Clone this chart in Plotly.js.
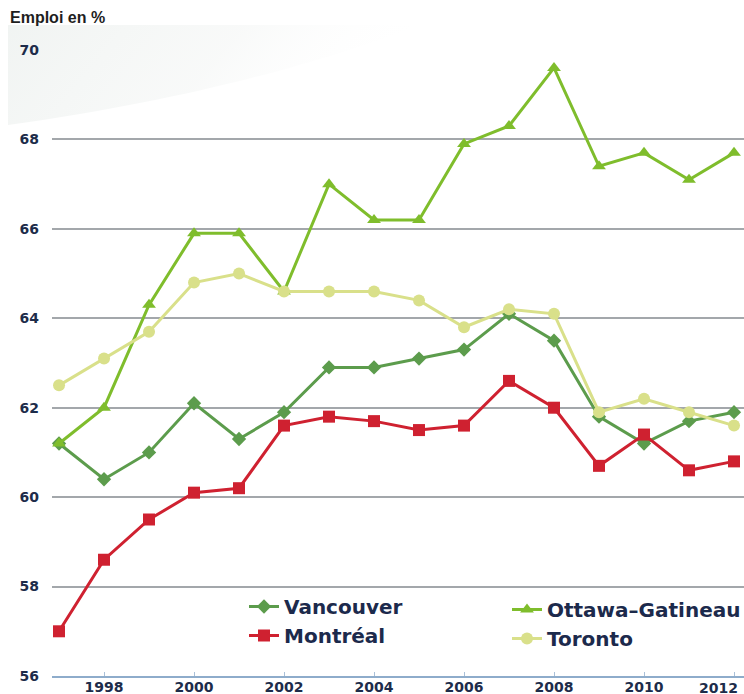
<!DOCTYPE html>
<html>
<head>
<meta charset="utf-8">
<script src="https://cdn.plot.ly/plotly-3.0.1.min.js"></script>
<style>html,body{margin:0;padding:0;background:#fff;}#chart{width:744px;height:694px;}</style>
</head>
<body>
<div id="chart"></div>
<script>
const years = [1997,1998,1999,2000,2001,2002,2003,2004,2005,2006,2007,2008,2009,2010,2011,2012];
const vancouver = [61.2,60.4,61.0,62.1,61.3,61.9,62.9,62.9,63.1,63.3,64.1,63.5,61.8,61.2,61.7,61.9];
const ottawa    = [61.2,62.0,64.3,65.9,65.9,64.6,67.0,66.2,66.2,67.9,68.3,69.6,67.4,67.7,67.1,67.7];
const montreal  = [57.0,58.6,59.5,60.1,60.2,61.6,61.8,61.7,61.5,61.6,62.6,62.0,60.7,61.4,60.6,60.8];
const toronto   = [62.5,63.1,63.7,64.8,65.0,64.6,64.6,64.6,64.4,63.8,64.2,64.1,61.9,62.2,61.9,61.6];
const seriesNames = ['Vancouver','Ottawa\u2013Gatineau','Montréal','Toronto'];
const yTicks = [56,58,60,62,64,66,68,70];
const xTicks = [1998,2000,2002,2004,2006,2008,2010,2012];
const xTickText = ['1998','2000','2002','2004','2006','2008','2010',''];
const lastTickLabel = '2012';

const swoosh = 'data:image/svg+xml;utf8,' + encodeURIComponent(
 '<svg xmlns="http://www.w3.org/2000/svg" width="420" height="100" viewBox="0 0 420 100" preserveAspectRatio="none">' +
 '<defs><linearGradient id="g" x1="0" y1="0" x2="1" y2="0.2">' +
 '<stop offset="0" stop-color="#edf1ef" stop-opacity="0.8"/>' +
 '<stop offset="0.55" stop-color="#f3f5f4" stop-opacity="0.55"/>' +
 '<stop offset="1" stop-color="#ffffff" stop-opacity="0"/></linearGradient></defs>' +
 '<path d="M8,0 L420,0 C330,35 190,75 8,100 Z" fill="url(#g)"/></svg>');

function tr(name, y, color, symbol, size, lw, legend) {
  return {x: years, y: y, name: name, type: 'scatter', mode: 'lines+markers',
    legend: legend,
    line: {color: color, width: lw},
    marker: {symbol: symbol, size: size, color: color}};
}

const data = [
  tr(seriesNames[0], vancouver, '#5c9c4c', 'diamond', 11, 3, 'legend'),
  tr(seriesNames[1], ottawa, '#7fbd2c', 'triangle-up', 12, 3, 'legend2'),
  tr(seriesNames[2], montreal, '#cf2130', 'square', 12, 3, 'legend'),
  tr(seriesNames[3], toronto, '#d9e08a', 'circle', 12, 3, 'legend2')
];

const tickFont = {family: 'DejaVu Sans', size: 14, color: '#1d2c4a', weight: 'bold'};
const legFont = {family: 'DejaVu Sans', size: 20, color: '#1c2a4c', weight: 'bold'};

const layout = {
  width: 744, height: 694,
  margin: {l: 52, r: 0, t: 50, b: 18, autoexpand: false},
  paper_bgcolor: '#ffffff', plot_bgcolor: 'rgba(0,0,0,0)',
  showlegend: true,
  title: {text: 'Emploi en %', x: 10/744, xref: 'container', xanchor: 'left',
          y: 1 - 17/694, yref: 'container', yanchor: 'middle',
          font: {family: 'Liberation Sans', size: 16, color: '#1e1e1e', weight: 'bold'}},
  xaxis: {range: [1996.844, 2012.222], tickvals: xTicks, ticktext: xTickText,
          showgrid: false, zeroline: false, showline: true, linecolor: '#8eaccb', linewidth: 2,
          ticks: 'inside', ticklen: 4, tickcolor: '#a9c0d8', tickwidth: 1,
          ticklabelstandoff: -3, automargin: false,
          tickfont: tickFont, fixedrange: true},
  yaxis: {range: [56, 70], tickvals: yTicks, ticktext: yTicks.map(String),
          showgrid: true, gridcolor: '#a3a7ab', gridwidth: 2, zeroline: false, showline: false,
          ticks: '', ticklabelstandoff: 12, automargin: false, tickfont: tickFont, fixedrange: true},
  legend: {orientation: 'v', x: (244-52)/692, y: (676-587)/626, xanchor: 'left', yanchor: 'top',
           bgcolor: 'rgba(0,0,0,0)', font: legFont, traceorder: 'normal'},
  legend2: {orientation: 'v', x: (507-52)/692, y: (676-590)/626, xanchor: 'left', yanchor: 'top',
           bgcolor: 'rgba(0,0,0,0)', font: legFont, traceorder: 'normal'},
  annotations: [{text: lastTickLabel, x: xTicks[xTicks.length-1], xref: 'x', y: 0, yref: 'paper',
                 xanchor: 'right', yanchor: 'middle', xshift: 5, yshift: -12, borderpad: 0,
                 showarrow: false, font: tickFont}],
  images: [{source: swoosh, xref: 'paper', yref: 'paper', x: -52/692, y: (676-25)/626,
            sizex: 420/692, sizey: 100/626, sizing: 'stretch', xanchor: 'left', yanchor: 'top',
            layer: 'below'}]
};

Plotly.newPlot('chart', data, layout, {staticPlot: true, displayModeBar: false});
</script>
</body>
</html>
